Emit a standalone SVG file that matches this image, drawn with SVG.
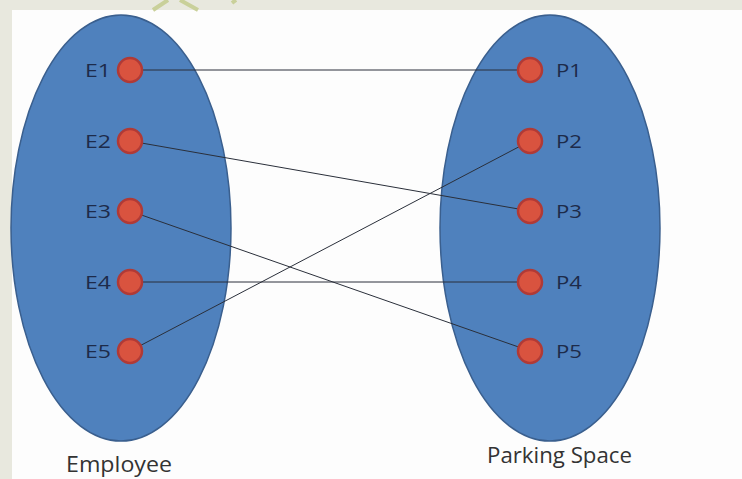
<svg xmlns="http://www.w3.org/2000/svg" width="742" height="479" viewBox="0 0 742 479">
<style>
.set{fill:#4f81bd;stroke:#3a5f8e;stroke-width:1.5}
.dot{fill:#d9533f;stroke:#b03a36;stroke-width:2.5}
.lbl{font-family:"Open Sans","Liberation Sans",Arial,sans-serif;font-size:18px;fill:#1d2b4a}
.cap{font-family:"Open Sans","Liberation Sans",sans-serif;font-size:21px;fill:#333}
.edge{stroke:#2a2f3a;stroke-width:1;fill:none}
</style>
<rect width="742" height="479" fill="#e8e8de"/>
<rect x="12" y="10" width="730" height="469" fill="#fdfdfd"/>
<path d="M153 10 L168 0 M180 0 L198 10 M232 3 L236 0" stroke="#c9d09a" stroke-width="4" fill="none"/>
<g id="employee"><ellipse class="set" cx="121" cy="228" rx="110" ry="213"/><text class="cap" x="66" y="472" textLength="106" lengthAdjust="spacingAndGlyphs">Employee</text></g>
<g id="parking"><ellipse class="set" cx="550" cy="228" rx="110" ry="213"/><text class="cap" x="487" y="463" textLength="145" lengthAdjust="spacingAndGlyphs">Parking Space</text></g>
<g id="edges">
<line class="edge" x1="130" y1="70" x2="530" y2="70"/>
<line class="edge" x1="130" y1="141" x2="530" y2="211"/>
<line class="edge" x1="130" y1="211" x2="530" y2="351"/>
<line class="edge" x1="130" y1="282" x2="530" y2="282"/>
<line class="edge" x1="130" y1="351" x2="530" y2="141"/>
</g>
<g id="E1"><circle class="dot" cx="130" cy="70" r="12"/><text class="lbl" x="85" y="77" textLength="26" lengthAdjust="spacingAndGlyphs">E1</text></g>
<g id="E2"><circle class="dot" cx="130" cy="141" r="12"/><text class="lbl" x="85" y="148" textLength="26" lengthAdjust="spacingAndGlyphs">E2</text></g>
<g id="E3"><circle class="dot" cx="130" cy="211" r="12"/><text class="lbl" x="85" y="218" textLength="26" lengthAdjust="spacingAndGlyphs">E3</text></g>
<g id="E4"><circle class="dot" cx="130" cy="282" r="12"/><text class="lbl" x="85" y="289" textLength="26" lengthAdjust="spacingAndGlyphs">E4</text></g>
<g id="E5"><circle class="dot" cx="130" cy="351" r="12"/><text class="lbl" x="85" y="358" textLength="26" lengthAdjust="spacingAndGlyphs">E5</text></g>
<g id="P1"><circle class="dot" cx="530" cy="70" r="12"/><text class="lbl" x="556" y="77" textLength="26" lengthAdjust="spacingAndGlyphs">P1</text></g>
<g id="P2"><circle class="dot" cx="530" cy="141" r="12"/><text class="lbl" x="556" y="148" textLength="26" lengthAdjust="spacingAndGlyphs">P2</text></g>
<g id="P3"><circle class="dot" cx="530" cy="211" r="12"/><text class="lbl" x="556" y="218" textLength="26" lengthAdjust="spacingAndGlyphs">P3</text></g>
<g id="P4"><circle class="dot" cx="530" cy="282" r="12"/><text class="lbl" x="556" y="289" textLength="26" lengthAdjust="spacingAndGlyphs">P4</text></g>
<g id="P5"><circle class="dot" cx="530" cy="351" r="12"/><text class="lbl" x="556" y="358" textLength="26" lengthAdjust="spacingAndGlyphs">P5</text></g>
</svg>
